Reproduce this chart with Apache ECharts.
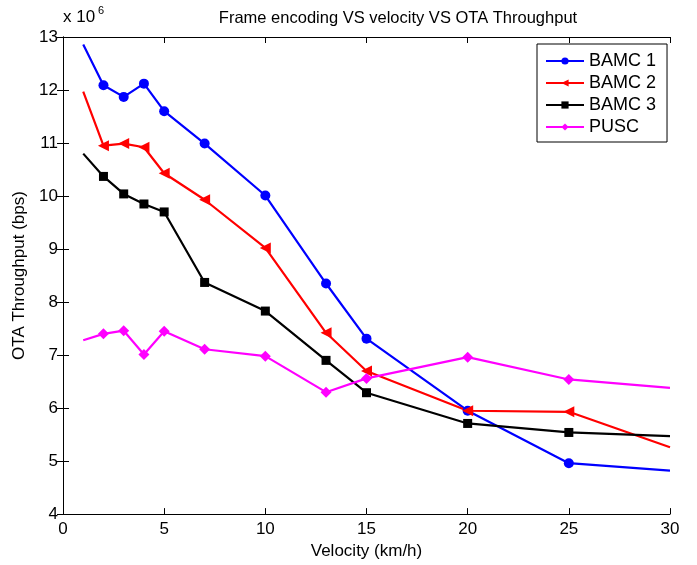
<!DOCTYPE html>
<html>
<head>
<meta charset="utf-8">
<script src="https://cdn.jsdelivr.net/npm/echarts@6/dist/echarts.min.js"></script>
<style>html,body{margin:0;padding:0;background:#fff}#c{width:697px;height:565px}</style>
</head>
<body>
<div id="c"></div>
<script>
var velocity = [1, 2, 3, 4, 5, 7, 10, 13, 15, 20, 25, 30];
var bamc1 = [12.86, 12.09, 11.87, 12.12, 11.60, 10.99, 10.01, 8.35, 7.31, 5.95, 4.96, 4.82];
var bamc2 = [11.97, 10.95, 10.99, 10.92, 10.43, 9.93, 9.02, 7.42, 6.70, 5.95, 5.93, 5.26];
var bamc3 = [10.80, 10.37, 10.04, 9.85, 9.70, 8.37, 7.83, 6.90, 6.29, 5.71, 5.54, 5.47];
var pusc  = [7.28, 7.40, 7.46, 7.01, 7.45, 7.11, 6.98, 6.30, 6.56, 6.96, 6.54, 6.38];
var seriesNames = ['BAMC 1', 'BAMC 2', 'BAMC 3', 'PUSC'];
var xTicks = [0, 5, 10, 15, 20, 25, 30];
var yTicks = [4, 5, 6, 7, 8, 9, 10, 11, 12, 13];

var FONT = 'Liberation Sans, Arial, Helvetica, sans-serif';

function build(vals) {
  return velocity.map(function (v, i) {
    var item = { value: [v, vals[i]] };
    if (i === 0 || i === velocity.length - 1) item.symbol = 'none';
    return item;
  });
}

function mkSeries(name, vals, color, symbol, size) {
  return {
    name: name, type: 'line', data: build(vals),
    xAxisIndex: 0, yAxisIndex: 0,
    symbol: symbol, symbolSize: size, showSymbol: true,
    lineStyle: { color: color, width: 2.2 },
    itemStyle: { color: color, borderWidth: 0 },
    emphasis: { disabled: true },
    animation: false, z: 3
  };
}

var chart = echarts.init(document.getElementById('c'));
var axisCommon = {
  axisLine: { show: true, lineStyle: { color: '#000', width: 1 } },
  axisTick: { show: true, inside: true, length: 6, lineStyle: { color: '#000', width: 1 } },
  splitLine: { show: false }
};
chart.setOption({
  backgroundColor: '#fff',
  animation: false,
  grid: { left: 63, right: 27, top: 37, bottom: 48, containLabel: false },
  xAxis: [
    Object.assign({
      type: 'value', min: xTicks[0], max: xTicks[xTicks.length - 1], interval: 5, position: 'bottom',
      axisLabel: { color: '#000', fontSize: 17, fontFamily: FONT, margin: 7 },
      name: 'Velocity (km/h)', nameLocation: 'middle', nameGap: 21,
      nameTextStyle: { color: '#000', fontSize: 17, fontFamily: FONT }
    }, axisCommon),
    Object.assign({
      type: 'value', min: xTicks[0], max: xTicks[xTicks.length - 1], interval: 5, position: 'top',
      axisLabel: { show: false }
    }, axisCommon)
  ],
  yAxis: [
    Object.assign({
      type: 'value', min: yTicks[0], max: yTicks[yTicks.length - 1], interval: 1, position: 'left',
      axisLabel: { color: '#000', fontSize: 17, fontFamily: FONT, margin: 5 },
      name: 'OTA Throughput (bps)', nameLocation: 'middle', nameGap: 33, nameRotate: 90,
      nameTextStyle: { color: '#000', fontSize: 17, fontFamily: FONT }
    }, axisCommon),
    Object.assign({
      type: 'value', min: yTicks[0], max: yTicks[yTicks.length - 1], interval: 1, position: 'right',
      axisLabel: { show: false }
    }, axisCommon)
  ],
  legend: {
    orient: 'vertical', left: 537, top: 44,
    padding: [8, 11, 6, 8], itemGap: 4, itemWidth: 38, itemHeight: 9,
    borderColor: '#000', borderWidth: 1, backgroundColor: '#fff',
    textStyle: { color: '#000', fontSize: 18, fontFamily: FONT },
    data: seriesNames, selectedMode: false
  },
  graphic: [
    { type: 'text', x: 398, y: 18, style: { text: 'Frame encoding VS velocity VS OTA Throughput', font: '16.5px ' + FONT, fill: '#000', textAlign: 'center', textVerticalAlign: 'middle' } },
    { type: 'text', x: 63, y: 26, style: { text: 'x 10', font: '17px ' + FONT, fill: '#000', textAlign: 'left', textVerticalAlign: 'bottom' } },
    { type: 'text', x: 98, y: 5, style: { text: '6', font: '11px ' + FONT, fill: '#000', textAlign: 'left', textVerticalAlign: 'top' } }
  ],
  series: [
    mkSeries(seriesNames[0], bamc1, '#0000ff', 'circle', 10),
    mkSeries(seriesNames[1], bamc2, '#ff0000', 'path://M0,5 L10,0 L10,10 Z', 11),
    mkSeries(seriesNames[2], bamc3, '#000000', 'rect', 9),
    mkSeries(seriesNames[3], pusc, '#ff00ff', 'diamond', 11)
  ]
});
</script>
</body>
</html>
